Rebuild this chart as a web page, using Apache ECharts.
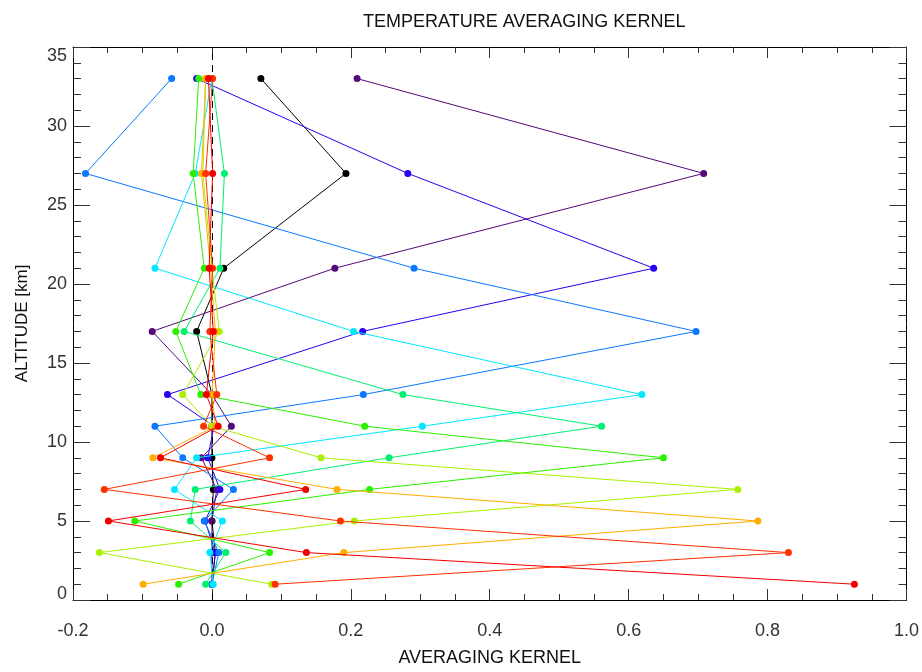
<!DOCTYPE html>
<html>
<head>
<meta charset="utf-8">
<script src="https://cdn.jsdelivr.net/npm/echarts@6/dist/echarts.min.js"></script>
<style>
html,body{margin:0;padding:0;background:#fff;}
#chart{width:922px;height:672px;}
</style>
</head>
<body>
<div id="chart"></div>
<script>
// Altitude levels (km)
var altitudes = [1, 3, 5, 7, 9, 11, 13, 17, 21, 27, 33];

// Averaging kernel rows (values at each altitude above), one per nominal altitude
var k33 = [0.0, 0.005, 0.0, 0.002, 0.0, 0.0, 0.0, -0.022, 0.017, 0.193, 0.0705];
var k27 = [0.0, 0.0, 0.0, 0.007, -0.015, 0.028, 0.0, -0.086, 0.177, 0.708, 0.209];
var k21 = [0.0, 0.005, -0.01, 0.0115, -0.006, 0.003, -0.064, 0.217, 0.636, 0.282, -0.022];
var k17 = [0.0, 0.01, -0.011, 0.031, -0.042, -0.082, 0.218, 0.697, 0.291, -0.182, -0.058];
var k13 = [0.002, -0.003, 0.015, -0.054, -0.022, 0.303, 0.619, 0.204, -0.082, -0.024, 0.0];
var k11 = [-0.009, 0.02, -0.031, -0.024, 0.255, 0.561, 0.275, -0.040, 0.0115, 0.018, 0.0];
var k9  = [-0.048, 0.083, -0.111, 0.227, 0.65, 0.22, -0.016, -0.052, -0.011, -0.027, -0.019];
var k7  = [0.086, -0.162, 0.205, 0.757, 0.157, 0.0, -0.042, 0.0105, 0.0, -0.013, -0.009];
var k5  = [-0.099, 0.19, 0.786, 0.18, -0.085, 0.005, 0.0, 0.005, -0.002, -0.015, -0.009];
var k3  = [0.091, 0.83, 0.185, -0.155, 0.083, -0.012, 0.007, -0.003, 0.001, -0.009, 0.001];
var k1  = [0.925, 0.136, -0.149, 0.135, -0.074, 0.009, -0.008, 0.002, -0.004, 0.001, -0.005];

var kernels = [k33, k27, k21, k17, k13, k11, k9, k7, k5, k3, k1];
var kernelNames = ['33 km', '27 km', '21 km', '17 km', '13 km', '11 km', '9 km', '7 km', '5 km', '3 km', '1 km'];
var kernelColors = ['#000000', '#55087a', '#2a00f0', '#0a78ff', '#00e8ff', '#00f070', '#2cf000', '#aaf000', '#ffae00', '#ff3000', '#f20000'];

var xTicks = { min: -0.2, max: 1.0, interval: 0.2 };
var yTicks = { min: 0, max: 35, interval: 5 };

var labelFont = 'Liberation Sans, Arial, Helvetica, sans-serif';

function makeSeries(i) {
  var data = altitudes.map(function (a, j) { return [kernels[i][j], a]; });
  var s = {
    name: kernelNames[i],
    type: 'line',
    data: data,
    symbol: 'circle',
    symbolSize: 7,
    showSymbol: true,
    lineStyle: { width: 1, color: kernelColors[i] },
    itemStyle: { color: kernelColors[i] },
    emphasis: { disabled: true },
    z: 3 + i
  };
  if (i === 0) {
    s.markLine = {
      silent: true,
      symbol: ['none', 'none'],
      label: { show: false },
      lineStyle: { color: '#000', width: 1, type: [7, 5] },
      data: [{ xAxis: 0 }]
    };
  }
  return s;
}

var series = kernels.map(function (k, i) { return makeSeries(i); });

var tickColor = '#333';
var chart = echarts.init(document.getElementById('chart'), null, { renderer: 'canvas' });
chart.setOption({
  animation: false,
  backgroundColor: '#fff',
  title: {
    text: 'TEMPERATURE AVERAGING KERNEL',
    left: 358,
    top: 8,
    textStyle: { fontFamily: labelFont, fontSize: 18, fontWeight: 'normal', color: '#111' }
  },
  grid: { left: 73, right: 15, top: 47, bottom: 64, containLabel: false },
  xAxis: [
    {
      type: 'value', min: xTicks.min, max: xTicks.max, interval: xTicks.interval,
      position: 'bottom',
      name: 'AVERAGING KERNEL', nameLocation: 'middle', nameGap: 49,
      nameTextStyle: { fontFamily: labelFont, fontSize: 18, color: '#111' },
      axisLine: { show: true, onZero: false, lineStyle: { color: '#000', width: 1 } },
      axisTick: { show: true, inside: true, length: 11, lineStyle: { color: tickColor, width: 1 } },
      minorTick: { show: true, splitNumber: 4, length: 6, lineStyle: { color: tickColor, width: 1 } },
      axisLabel: {
        margin: 22, fontFamily: labelFont, fontSize: 18, color: '#333',
        formatter: function (v) { return v.toFixed(1); }
      },
      splitLine: { show: false }
    },
    {
      type: 'value', min: xTicks.min, max: xTicks.max, interval: xTicks.interval,
      position: 'top',
      axisLine: { show: true, onZero: false, lineStyle: { color: '#000', width: 1 } },
      axisTick: { show: true, inside: true, length: 11, lineStyle: { color: tickColor, width: 1 } },
      minorTick: { show: true, splitNumber: 4, length: 6, lineStyle: { color: tickColor, width: 1 } },
      axisLabel: { show: false },
      splitLine: { show: false }
    }
  ],
  yAxis: [
    {
      type: 'value', min: yTicks.min, max: yTicks.max, interval: yTicks.interval,
      position: 'left',
      name: 'ALTITUDE [km]', nameLocation: 'middle', nameGap: 42,
      nameTextStyle: { fontFamily: labelFont, fontSize: 17, color: '#111' },
      axisLine: { show: true, onZero: false, lineStyle: { color: '#000', width: 1 } },
      axisTick: { show: true, inside: true, length: 17, lineStyle: { color: tickColor, width: 1 } },
      minorTick: { show: true, splitNumber: 5, length: 8, lineStyle: { color: tickColor, width: 1 } },
      axisLabel: {
        margin: 6, fontFamily: labelFont, fontSize: 18, color: '#333',
        formatter: function (v) {
          if (v === yTicks.max) return '{top|' + v + '}';
          if (v === yTicks.min) return '{bot|' + v + '}';
          return String(v);
        },
        rich: {
          top: { fontFamily: labelFont, fontSize: 18, color: '#333', padding: [18, 0, 0, 0] },
          bot: { fontFamily: labelFont, fontSize: 18, color: '#333', padding: [0, 0, 11, 0] }
        }
      },
      splitLine: { show: false }
    },
    {
      type: 'value', min: yTicks.min, max: yTicks.max, interval: yTicks.interval,
      position: 'right',
      axisLine: { show: true, onZero: false, lineStyle: { color: '#000', width: 1 } },
      axisTick: { show: true, inside: true, length: 17, lineStyle: { color: tickColor, width: 1 } },
      minorTick: { show: true, splitNumber: 5, length: 8, lineStyle: { color: tickColor, width: 1 } },
      axisLabel: { show: false },
      splitLine: { show: false }
    }
  ],
  series: series
});
</script>
</body>
</html>
